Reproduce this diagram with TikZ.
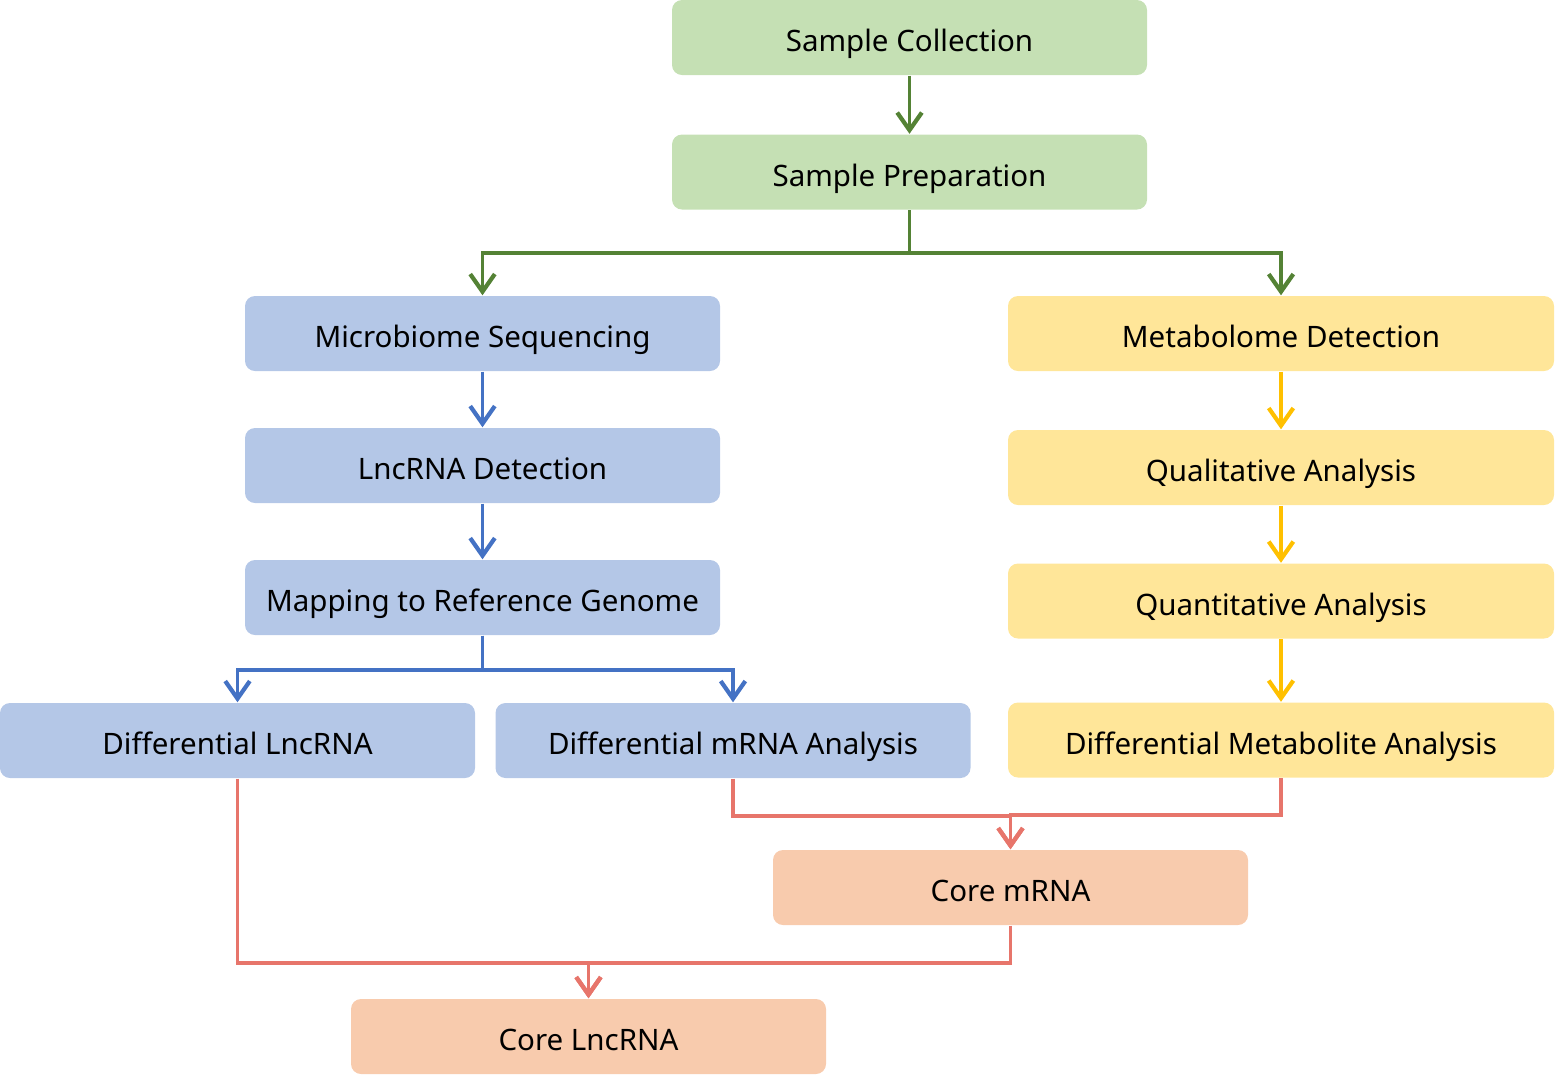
\documentclass[tikz,border=0pt]{standalone}
\usepackage{fontspec}
\setmainfont{Noto Sans}
\usetikzlibrary{arrows.meta}
\definecolor{greenfill}{HTML}{C5E0B4}
\definecolor{greenline}{HTML}{548235}
\definecolor{bluefill}{HTML}{B4C7E7}
\definecolor{blueline}{HTML}{4472C4}
\definecolor{yellowfill}{HTML}{FFE699}
\definecolor{yellowline}{HTML}{FFC000}
\definecolor{redfill}{HTML}{F8CBAD}
\definecolor{redline}{HTML}{E7756B}

\begin{document}
\begin{tikzpicture}[
    box/.style = {rounded corners=0.1cm, minimum width=4.75cm, minimum height=0.75cm,
      inner sep=0pt, text height=0.8em, text depth=0pt,
      font=\fontsize{8.4}{10}\selectfont},
    widebox/.style = {box, minimum width=5.46cm},
    greenbox/.style = {box, fill=greenfill},
    bluebox/.style = {box, fill=bluefill},
    yellowbox/.style = {widebox, fill=yellowfill},
    redbox/.style = {box, fill=redfill},
    link/.style = {line width=1.1pt, -{Straight Barb[length=5pt,width=7pt,line width=1.2pt]}},
    glink/.style = {link, color=greenline},
    blink/.style = {link, color=blueline},
    ylink/.style = {link, color=yellowline},
    rlink/.style = {link, color=redline}]
    \useasboundingbox (0,0) rectangle (15.56,-10.76);

    % top
    \node[greenbox] (collect) at (9.095,-0.375) {Sample Collection};
    \node[greenbox] (prep) at (9.095,-1.72) {Sample Preparation};

    % left branch
    \node[bluebox] (micro) at (4.825,-3.335) {Microbiome Sequencing};
    \node[bluebox] (lncdet) at (4.825,-4.655) {LncRNA Detection};
    \node[bluebox] (mapping) at (4.825,-5.975) {Mapping to Reference Genome};
    \node[bluebox] (difflnc) at (2.375,-7.405) {Differential LncRNA};
    \node[bluebox] (diffmrna) at (7.33,-7.405) {Differential mRNA Analysis};

    % right branch
    \node[yellowbox] (metab) at (12.81,-3.335) {Metabolome Detection};
    \node[yellowbox] (quali) at (12.81,-4.675) {Qualitative Analysis};
    \node[yellowbox] (quanti) at (12.81,-6.01) {Quantitative Analysis};
    \node[yellowbox] (diffmeta) at (12.81,-7.40) {Differential Metabolite Analysis};

    % core
    \node[redbox] (coremrna) at (10.105,-8.875) {Core mRNA};
    \node[redbox] (corelnc) at (5.885,-10.365) {Core LncRNA};

    \draw[glink] (collect) -- (prep);
    \draw[glink] (prep.south) -- ++(0,-0.43) -| (micro.north);
    \draw[glink] (prep.south) -- ++(0,-0.43) -| (metab.north);

    \draw[blink] (micro) -- (lncdet);
    \draw[blink] (lncdet) -- (mapping);
    \draw[blink] (mapping.south) -- ++(0,-0.34) -| (difflnc.north);
    \draw[blink] (mapping.south) -- ++(0,-0.34) -| (diffmrna.north);

    \draw[ylink] (metab) -- (quali);
    \draw[ylink] (quali) -- (quanti);
    \draw[ylink] (quanti) -- (diffmeta);

    \draw[rlink] (diffmrna.south) -- ++(0,-0.37) -| (coremrna.north);
    \draw[rlink] (diffmeta.south) -- ++(0,-0.37) -| (coremrna.north);
    \draw[rlink] (coremrna.south) -- ++(0,-0.37) -| (corelnc.north);
    \draw[rlink] (difflnc.south) -- ++(0,-1.84) -| (corelnc.north);
\end{tikzpicture}
\end{document}
